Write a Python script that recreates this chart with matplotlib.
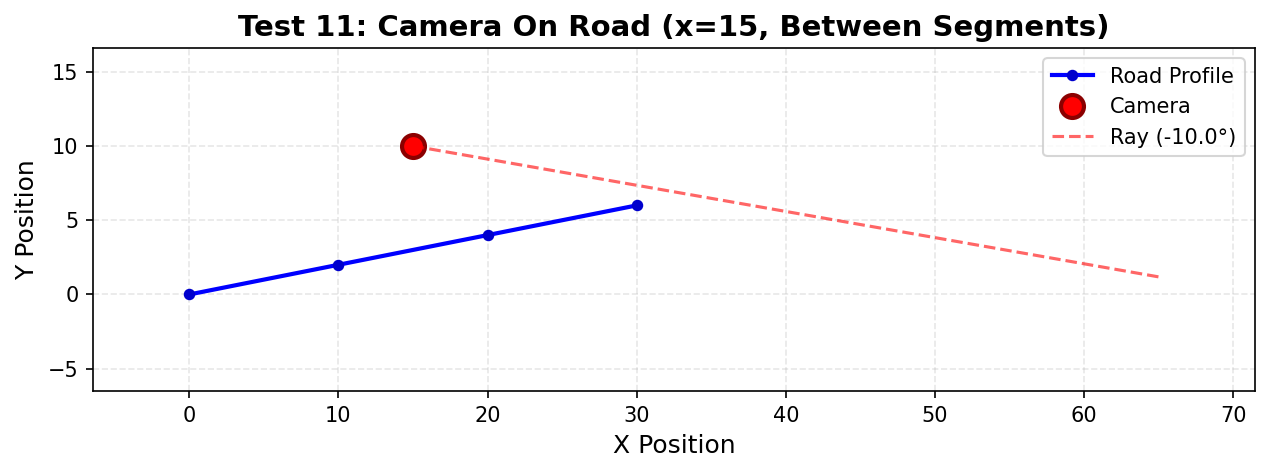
import numpy as np
import matplotlib
matplotlib.use("Agg")
import matplotlib.pyplot as plt

# road profile points
road_x = [0, 10, 20, 30]
road_y = [0, 2, 4, 6]

# camera position and ray
camera_x = 15
camera_y = 10
ray_angle = -10.0
ray_end_x = 65

ray_xs = np.array([camera_x, ray_end_x])
ray_ys = camera_y + (ray_xs - camera_x) * np.tan(np.radians(ray_angle))

fig = plt.figure(figsize=(1270 / 150, 474 / 150), dpi=150)
ax = fig.add_axes([93 / 1270, 1 - 391 / 474, (1255 - 93) / 1270, (391 - 48) / 474])

ax.plot(road_x, road_y, "-o", color="blue", linewidth=2, markersize=4.5,
        markerfacecolor="mediumblue", markeredgecolor="mediumblue", label="Road Profile")
ax.plot(camera_x, camera_y, "o", color="red", markersize=11,
        markeredgecolor="darkred", markeredgewidth=2, label="Camera", linestyle="none")
ax.plot(ray_xs, ray_ys, "--", color="red", alpha=0.6, linewidth=1.5,
        label=f"Ray ({ray_angle:.1f}°)")

ax.set_xlim(-6.45, 71.45)
ax.set_ylim(-6.5, 16.6)
ax.set_xticks(np.arange(0, 71, 10))
ax.set_yticks([-5, 0, 5, 10, 15])
ax.grid(True, linestyle="--", alpha=0.3)

ax.set_xlabel("X Position", fontsize=12)
ax.set_ylabel("Y Position", fontsize=12)
ax.set_title("Test 11: Camera On Road (x=15, Between Segments)", fontsize=14, fontweight="bold")
ax.legend(loc="upper right")

fig.savefig("out.png", dpi=150)
